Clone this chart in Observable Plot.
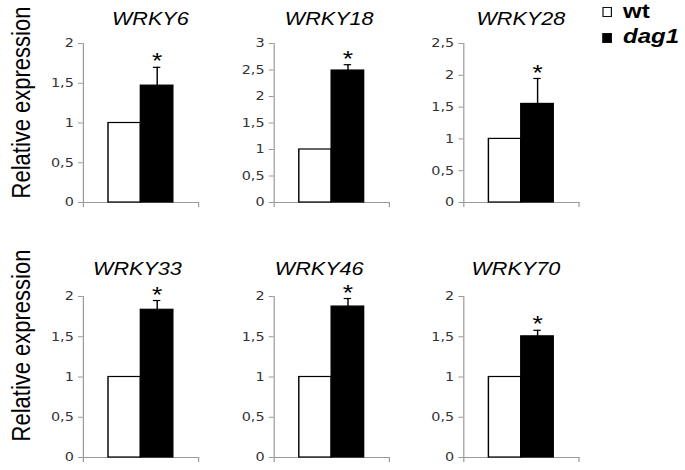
<!DOCTYPE html>
<html>
<head>
<meta charset="utf-8">
<script src="https://cdn.jsdelivr.net/npm/d3@7"></script>
<script src="https://cdn.jsdelivr.net/npm/@observablehq/plot@0.6"></script>
<style>
  html, body { margin: 0; padding: 0; background: #fff; }
  #stage { position: relative; width: 571px; height: 470px; transform: scaleX(1.2); transform-origin: 0 0; overflow: visible; }
  .panel { position: absolute; }
  .panel svg { overflow: visible; }
  .lg-box { position: absolute; box-sizing: border-box; width: 8.4px; height: 10px; border: 1.5px solid #111; }
  .lg-text { position: absolute; font-family: "Liberation Sans", Arial, sans-serif; font-size: 20px; line-height: 20px; font-weight: bold; color: #000; white-space: nowrap; }
</style>
</head>
<body>
<div id="stage"></div>
<script>
// ---- data ----
const genes = ["WRKY6", "WRKY18", "WRKY28", "WRKY33", "WRKY46", "WRKY70"];
const genotypes = ["wt", "dag1"];
const wtValues = [1, 1, 1, 1, 1, 1];
const dag1Values = [1.47, 2.49, 1.55, 1.835, 1.875, 1.505];
const dag1Errors = [0.23, 0.11, 0.40, 0.115, 0.10, 0.075];
const yMaxes = [2, 3, 2.5, 2, 2, 2];
const significant = [true, true, true, true, true, true];
const yLabel = "Relative expression";

// ---- layout (unscaled px; stage is stretched 1.2x horizontally) ----
const colAxisX = [69.2, 227.5, 385.8];
const rowTop = [0, 253];
const rowPlotH = [159, 161];
const titleDy = [-24, -27];
const titleDx = [7.8, -2.2, -0.5, -3, -10.5, -4.6];
const labelDy = [-20.5, -31.5];

const stage = document.getElementById("stage");
const fmt = d => String(d).replace(".", ",");
const axisGray = "#9a9a9a";

genes.forEach((gene, i) => {
  const col = i % 3, row = Math.floor(i / 3);
  const mL = col === 0 ? 70 : 50, mR = 10, mT = 43, mB = 10;
  const plotW = 96;
  const rows = genotypes.map((g, j) => ({
    genotype: g,
    value: j === 0 ? wtValues[i] : dag1Values[i],
    err: j === 0 ? 0 : dag1Errors[i]
  }));
  const dag = rows.filter(d => d.genotype === "dag1");
  const ticks = d3.range(0, yMaxes[i] + 1e-9, 0.5);
  const marks = [
    Plot.frame({anchor: "left", stroke: axisGray, strokeWidth: 1, insetBottom: -4}),
    Plot.frame({anchor: "bottom", stroke: axisGray, strokeWidth: 1}),
    Plot.frame({anchor: "right", stroke: axisGray, strokeWidth: 1, insetTop: rowPlotH[row], insetBottom: -4}),
    Plot.axisY({ticks, tickFormat: fmt, tickSize: 4, tickPadding: 4, stroke: axisGray,
      fill: "#333", fontSize: 12, fontFamily: "DejaVu Sans, Verdana, sans-serif", label: null}),
    Plot.barY(rows, {x: "genotype", y: "value", fill: "genotype", stroke: "#000", strokeWidth: 1.2}),
    Plot.ruleX(dag, {x: "genotype", y1: "value", y2: d => d.value + d.err, stroke: "#000", strokeWidth: 1.2}),
    Plot.tickY(dag, {x: "genotype", y: d => d.value + d.err, stroke: "#000", strokeWidth: 1.2, insetLeft: 10.4, insetRight: 10.4}),
    Plot.text(dag.filter(() => significant[i]), {x: "genotype", y: d => d.value + d.err, text: () => "*",
      dy: -6, lineAnchor: "middle", fontSize: 22, fill: "#000", fontFamily: "Liberation Sans, Arial, sans-serif"}),
    Plot.text([gene], {text: d => d, frameAnchor: "top", dx: titleDx[i], dy: titleDy[row], lineAnchor: "middle",
      fontSize: 18, fontStyle: "italic", fill: "#000", fontFamily: "Liberation Sans, Arial, sans-serif"})
  ];
  if (col === 0) {
    marks.push(Plot.text([yLabel], {text: d => d, frameAnchor: "left", rotate: -90, dx: -51.7, dy: labelDy[row],
      textAnchor: "middle", lineAnchor: "middle", fontSize: 22, fill: "#000",
      fontFamily: "Liberation Sans, Arial, sans-serif"}));
  }
  const chart = Plot.plot({
    width: mL + plotW + mR,
    height: mT + rowPlotH[row] + mB,
    marginLeft: mL, marginRight: mR, marginTop: mT, marginBottom: mB,
    style: {background: "transparent", overflow: "visible"},
    x: {domain: genotypes, paddingInner: 0, paddingOuter: 0.74, axis: null},
    y: {domain: [0, yMaxes[i]], axis: null},
    color: {domain: genotypes, range: ["#ffffff", "#000000"]},
    marks
  });
  const wrap = document.createElement("div");
  wrap.className = "panel";
  wrap.style.left = (colAxisX[col] - mL) + "px";
  wrap.style.top = rowTop[row] + "px";
  wrap.appendChild(chart);
  stage.appendChild(wrap);
});

// ---- legend ----
const legendItems = [
  {label: genotypes[0], fill: "#fff", top: 7.3, textTop: 0.6, italic: false},
  {label: genotypes[1], fill: "#000", top: 33.3, textTop: 26.1, italic: true}
];
legendItems.forEach(it => {
  const b = document.createElement("div");
  b.className = "lg-box";
  b.style.left = "501.7px";
  b.style.top = it.top + "px";
  b.style.background = it.fill;
  stage.appendChild(b);
  const t = document.createElement("div");
  t.className = "lg-text";
  t.style.left = "519.2px";
  t.style.top = it.textTop + "px";
  t.style.fontStyle = it.italic ? "italic" : "normal";
  t.textContent = it.label;
  stage.appendChild(t);
});
</script>
</body>
</html>
